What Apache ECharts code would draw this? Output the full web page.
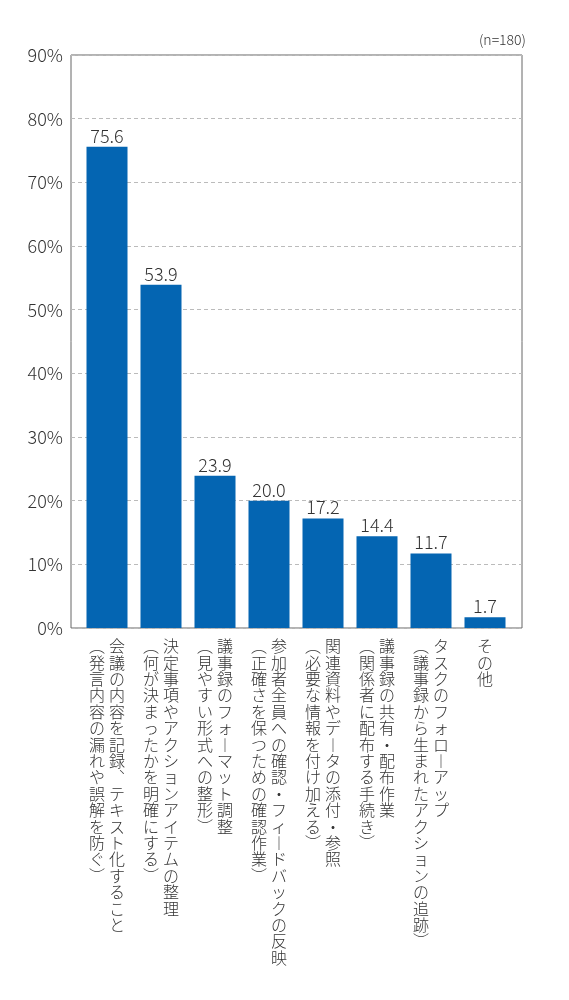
<!DOCTYPE html>
<html>
<head>
<meta charset="utf-8">
<script src="https://cdn.jsdelivr.net/npm/echarts@6/dist/echarts.min.js"></script>
<style>
html,body{margin:0;padding:0;background:#fff;}
#chart{width:569px;height:1000px;}
</style>
</head>
<body>
<div id="chart"></div>
<script>
// ---- data ----
const categoryMain = [
  '会議の内容を記録、テキスト化すること',
  '決定事項やアクションアイテムの整理',
  '議事録のフォーマット調整',
  '参加者全員への確認・フィードバックの反映',
  '関連資料やデータの添付・参照',
  '議事録の共有・配布作業',
  'タスクのフォローアップ',
  'その他'
];
const categorySub = [
  '（発言内容の漏れや誤解を防ぐ）',
  '（何が決まったかを明確にする）',
  '（見やすい形式への整形）',
  '（正確さを保つための確認作業）',
  '（必要な情報を付け加える）',
  '（関係者に配布する手続き）',
  '（議事録から生まれたアクションの追跡）',
  ''
];
const values = [75.6, 53.9, 23.9, 20.0, 17.2, 14.4, 11.7, 1.7];
const yTicks = [0, 10, 20, 30, 40, 50, 60, 70, 80, 90];
const sampleNote = '(n=180)';

// vertical presentation of a few characters
const vertMap = {'（':'︵','）':'︶','ー':'︱','、':'︑','。':'︒'};
function vchars(s){ return Array.from(s).map(c => vertMap[c] || c); }

function verticalLabel(idx){
  const m = vchars(categoryMain[idx]);
  const p = vchars(categorySub[idx]);
  const n = Math.max(m.length, p.length);
  const lines = [];
  for (let i = 0; i < n; i++){
    if (p.length === 0) {
      lines.push('{m|' + (m[i] || '　') + '}');
    } else {
      lines.push('{p|' + (p[i] || '　') + '}{m|' + (m[i] || '　') + '}');
    }
  }
  return lines.join('\n');
}

const FONT = '"Noto Sans CJK JP", "Noto Sans", sans-serif';
const W = 300;
const chart = echarts.init(document.getElementById('chart'), null, {renderer:'canvas'});
const richCell = {width:20, align:'center', fontSize:16, lineHeight:16.4, color:'#333', fontFamily:FONT, fontWeight:W};

chart.setOption({
  animation:false,
  backgroundColor:'#fff',
  title:{
    text:sampleNote, right:43, top:33, padding:0,
    textStyle:{fontSize:14, fontWeight:W, color:'#333', fontFamily:FONT}
  },
  grid:[
    {left:71, right:47, top:55, bottom:372, show:true, borderColor:'#666', borderWidth:1, backgroundColor:'transparent', containLabel:false},
    {left:80, right:57, top:55, bottom:372, containLabel:false}
  ],
  xAxis:[
    {type:'value', gridIndex:0, show:false, min:0, max:1},
    {type:'category', gridIndex:1, data:categoryMain.map((c,i)=>i),
     axisLine:{show:false}, axisTick:{show:false},
     axisLabel:{interval:0, margin:10, verticalAlign:'top', align:'center',
       formatter:(v, i)=>verticalLabel(i),
       rich:{p:richCell, m:richCell}, lineHeight:16.4, fontFamily:FONT, fontWeight:W}
    }
  ],
  yAxis:[
    {type:'value', gridIndex:0, min:yTicks[0], max:yTicks[yTicks.length-1], interval:10,
     axisLine:{show:false}, axisTick:{show:false},
     axisLabel:{formatter:'{value}%', fontSize:18, color:'#333', margin:8, fontFamily:FONT, fontWeight:W},
     splitLine:{show:true, lineStyle:{type:[4,3], color:'#bbb', width:1}}
    },
    {type:'value', gridIndex:1, min:0, max:90, show:false, splitLine:{show:false}}
  ],
  series:[
    {type:'bar', xAxisIndex:1, yAxisIndex:1, data:values, barWidth:41,
     itemStyle:{color:'#0465b2'},
     label:{show:true, position:'top', distance:2, fontSize:18, color:'#333', fontFamily:FONT, fontWeight:W,
       formatter:p=>p.value.toFixed(1)}
    }
  ]
});
</script>
</body>
</html>
